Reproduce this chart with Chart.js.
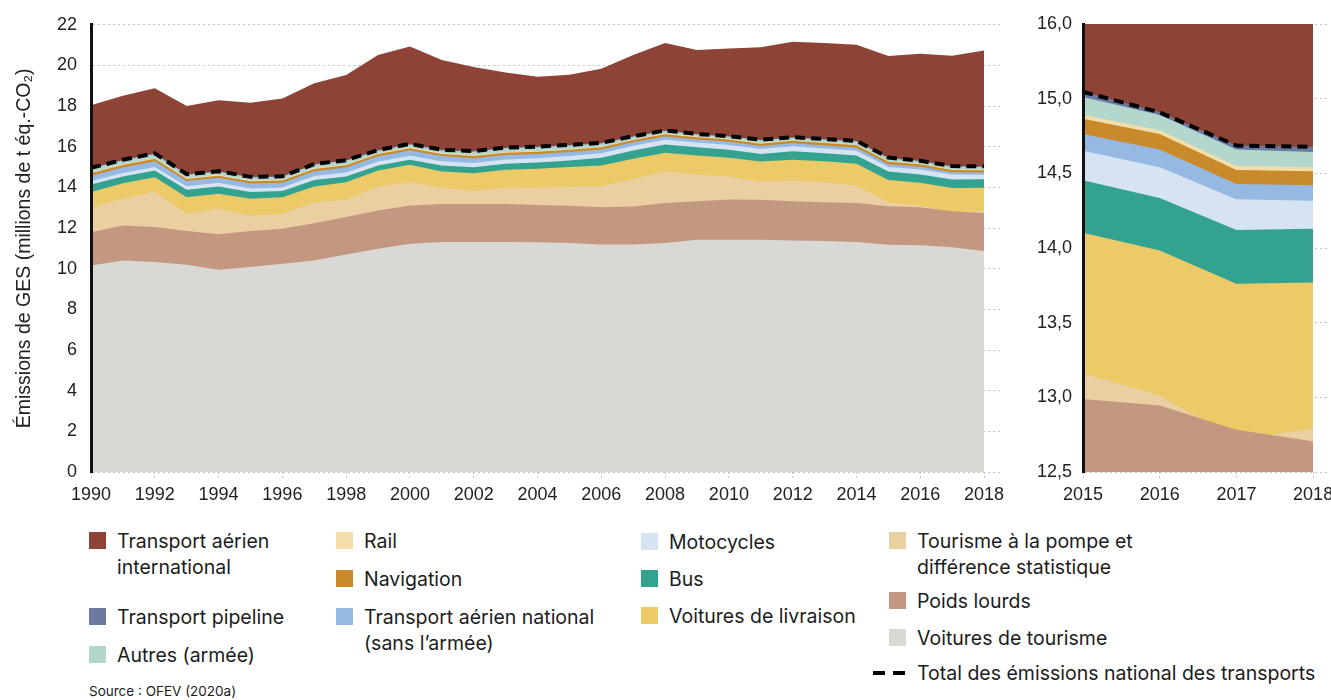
<!DOCTYPE html>
<html>
<head>
<meta charset="utf-8">
<script src="https://cdn.jsdelivr.net/npm/chart.js@4.4.1/dist/chart.umd.min.js"></script>
<style>
	body { margin: 0; background: #fff; width: 1331px; height: 700px; position: relative; overflow: hidden; font-family: Inter, "Noto Sans", sans-serif; color: #1c1c1c; }
	#mainChart { position: absolute; left: 0; top: 0; }
	#zoomChart { position: absolute; left: 1010px; top: 0; }
	.lg { position: absolute; font-size: 19.5px; line-height: 26px; white-space: nowrap; }
	.sw { position: absolute; width: 17px; height: 17px; }
	.dash { position: absolute; height: 4px; width: 12px; background: #000; }
	#source { position: absolute; left: 89px; top: 683px; font-size: 13.5px; }
</style>
</head>
<body>
<canvas id="mainChart" width="1010" height="505"></canvas>
<canvas id="zoomChart" width="321" height="505"></canvas>
<div id="legend"></div>
<div id="source">Source : OFEV (2020a)</div>
<script>
// Émissions de GES du transport, millions de t éq.-CO2
const years = [1990, 1991, 1992, 1993, 1994, 1995, 1996, 1997, 1998, 1999, 2000, 2001, 2002, 2003, 2004,
	2005, 2006, 2007, 2008, 2009, 2010, 2011, 2012, 2013, 2014, 2015, 2016, 2017, 2018];

const voituresTourisme = [10.16, 10.41, 10.33, 10.20, 9.95, 10.08, 10.25, 10.41, 10.70, 10.98, 11.23, 11.31, 11.31, 11.31, 11.30,
	11.26, 11.19, 11.19, 11.26, 11.43, 11.43, 11.43, 11.39, 11.36, 11.31, 11.18, 11.15, 11.06, 10.87];
const poidsLourds = [1.64, 1.72, 1.72, 1.65, 1.74, 1.77, 1.72, 1.83, 1.84, 1.89, 1.88, 1.88, 1.88, 1.88, 1.83,
	1.84, 1.84, 1.87, 1.97, 1.89, 1.98, 1.96, 1.93, 1.91, 1.92, 1.89, 1.87, 1.77, 1.87];
const tourismePompe = [1.23, 1.31, 1.75, 0.85, 1.26, 0.77, 0.73, 1.03, 0.85, 1.18, 1.15, 0.79, 0.63, 0.79, 0.87,
	0.95, 1.03, 1.36, 1.57, 1.32, 1.13, 0.90, 1.02, 0.99, 0.87, 0.20, 0.08, -0.08, 0.10];
const voituresLivraison = [0.74, 0.77, 0.70, 0.82, 0.74, 0.82, 0.82, 0.78, 0.87, 0.78, 0.85, 0.80, 0.88, 0.89, 0.92,
	0.95, 1.02, 0.99, 0.90, 0.93, 0.92, 0.99, 1.02, 1.03, 1.06, 1.10, 1.13, 1.22, 1.14];
const bus = [0.37, 0.33, 0.33, 0.36, 0.36, 0.33, 0.30, 0.32, 0.28, 0.25, 0.25, 0.30, 0.29, 0.29, 0.30,
	0.33, 0.38, 0.41, 0.41, 0.41, 0.39, 0.37, 0.42, 0.39, 0.41, 0.41, 0.41, 0.42, 0.42];
const motocycles = [0.17, 0.17, 0.18, 0.18, 0.18, 0.18, 0.18, 0.19, 0.19, 0.20, 0.20, 0.21, 0.21, 0.21, 0.22,
	0.22, 0.22, 0.23, 0.23, 0.23, 0.24, 0.24, 0.24, 0.24, 0.24, 0.23, 0.24, 0.24, 0.22];
const aerienNational = [0.27, 0.27, 0.28, 0.25, 0.24, 0.24, 0.23, 0.24, 0.25, 0.25, 0.26, 0.25, 0.23, 0.22, 0.20,
	0.19, 0.18, 0.17, 0.17, 0.15, 0.16, 0.15, 0.15, 0.14, 0.14, 0.13, 0.14, 0.12, 0.12];
const navigation = [0.12, 0.12, 0.12, 0.11, 0.11, 0.11, 0.11, 0.11, 0.11, 0.11, 0.11, 0.11, 0.11, 0.11, 0.11,
	0.11, 0.11, 0.11, 0.11, 0.11, 0.11, 0.11, 0.12, 0.12, 0.12, 0.12, 0.12, 0.11, 0.11];
const rail = [0.04, 0.04, 0.04, 0.04, 0.04, 0.04, 0.04, 0.04, 0.04, 0.04, 0.04, 0.04, 0.04, 0.04, 0.04,
	0.04, 0.03, 0.03, 0.03, 0.03, 0.03, 0.03, 0.03, 0.03, 0.03, 0.03, 0.03, 0.03, 0.03];
const autresArmee = [0.19, 0.19, 0.20, 0.16, 0.15, 0.15, 0.14, 0.17, 0.18, 0.13, 0.14, 0.13, 0.18, 0.19, 0.19,
	0.17, 0.16, 0.13, 0.12, 0.10, 0.10, 0.14, 0.12, 0.14, 0.16, 0.14, 0.12, 0.13, 0.12];
const pipeline = [0.03, 0.03, 0.03, 0.03, 0.03, 0.03, 0.03, 0.03, 0.03, 0.03, 0.03, 0.03, 0.03, 0.03, 0.03,
	0.03, 0.03, 0.03, 0.03, 0.03, 0.03, 0.03, 0.03, 0.03, 0.03, 0.04, 0.02, 0.03, 0.04];
const aerienInternational = [3.08, 3.15, 3.20, 3.36, 3.49, 3.65, 3.82, 3.97, 4.19, 4.67, 4.79, 4.42, 4.13, 3.69, 3.43,
	3.45, 3.65, 3.99, 4.31, 4.13, 4.32, 4.55, 4.69, 4.72, 4.73, 5.00, 5.27, 5.43, 5.69];

const mainXTicks = [1990, 1992, 1994, 1996, 1998, 2000, 2002, 2004, 2006, 2008, 2010, 2012, 2014, 2016, 2018];
const zoomXTicks = [2015, 2016, 2017, 2018];
const zoomYTickLabels = ['12,5', '13,0', '13,5', '14,0', '14,5', '15,0', '16,0'];

// stack order, bottom first
const series = [
	{ name: 'Voitures de tourisme', data: voituresTourisme, color: '#d9d8d4' },
	{ name: 'Poids lourds', data: poidsLourds, color: '#c49880' },
	{ name: 'Tourisme à la pompe et différence statistique', data: tourismePompe, color: '#eacfa0' },
	{ name: 'Voitures de livraison', data: voituresLivraison, color: '#ecca67' },
	{ name: 'Bus', data: bus, color: '#33a28f' },
	{ name: 'Motocycles', data: motocycles, color: '#d6e3f3' },
	{ name: 'Transport aérien national (sans l’armée)', data: aerienNational, color: '#95b9e3' },
	{ name: 'Navigation', data: navigation, color: '#c98a2c' },
	{ name: 'Rail', data: rail, color: '#f3dea9' },
	{ name: 'Autres (armée)', data: autresArmee, color: '#b3d7cd' },
	{ name: 'Transport pipeline', data: pipeline, color: '#6b7aa1' },
	{ name: 'Transport aérien international', data: aerienInternational, color: '#8e4337' }
];
const pipelineIndex = 10;

const tickFont = { family: '"Liberation Sans", Arial, sans-serif', size: 18 };
const gridGrey = '#c4c4c4';

function makeDatasets(from) {
	return series.map(s => ({
		label: s.name,
		data: years.slice(from).map((yr, i) => ({ x: yr, y: s.data[from + i] })),
		backgroundColor: s.color,
		borderColor: s.color,
		borderWidth: 0,
		pointRadius: 0,
		tension: 0,
		fill: 'origin'
	}));
}

// dashed total line = top of the national stack, drawn over the areas
const totalLine = {
	id: 'totalLine',
	afterDatasetsDraw(chart) {
		const meta = chart.getDatasetMeta(pipelineIndex);
		const a = chart.chartArea;
		const ctx = chart.ctx;
		ctx.save();
		ctx.beginPath();
		ctx.rect(a.left, a.top, a.right - a.left, a.bottom - a.top);
		ctx.clip();
		ctx.strokeStyle = '#000';
		ctx.lineWidth = 4;
		ctx.setLineDash([10, 6]);
		ctx.beginPath();
		meta.data.forEach((p, i) => i ? ctx.lineTo(p.x, p.y) : ctx.moveTo(p.x, p.y));
		ctx.stroke();
		ctx.restore();
	}
};

function xScale(min, max, ticks) {
	return {
		type: 'linear',
		min: min,
		max: max,
		afterBuildTicks: s => { s.ticks = ticks.map(v => ({ value: v })); },
		ticks: { font: tickFont, color: '#222', padding: 4, maxRotation: 0, autoSkip: false, callback: v => String(v) },
		grid: { drawOnChartArea: false, tickLength: 8, tickColor: gridGrey, tickBorderDash: [2, 2] },
		border: { display: false },
		afterFit: s => { s.height = 33; s.paddingLeft = 0; s.paddingRight = 0; }
	};
}

// Main chart 1990-2018
new Chart(document.getElementById('mainChart'), {
	type: 'line',
	data: { datasets: makeDatasets(0) },
	options: {
		responsive: false,
		animation: false,
		devicePixelRatio: 1,
		layout: { padding: { left: 0, right: 10, top: 24, bottom: 0 } },
		plugins: { legend: { display: false }, tooltip: { enabled: false } },
		scales: {
			x: xScale(1990, 2018.5, mainXTicks),
			y: {
				stacked: 'single',
				min: 0,
				max: 22,
				ticks: { stepSize: 2, font: tickFont, color: '#222', padding: 14 },
				grid: { color: gridGrey, drawTicks: false },
				border: { color: '#111', width: 3, dash: [2, 3], z: 1 },
				title: {
					display: true,
					text: 'Émissions de GES (millions de t éq.-CO₂)',
					font: { family: tickFont.family, size: 19.5 },
					color: '#222',
					padding: { top: 13, bottom: 0 }
				},
				afterFit: s => { s.width = 91; }
			}
		}
	},
	plugins: [totalLine]
});

// Zoom 2015-2018
new Chart(document.getElementById('zoomChart'), {
	type: 'line',
	data: { datasets: makeDatasets(25) },
	options: {
		responsive: false,
		animation: false,
		devicePixelRatio: 1,
		layout: { padding: { left: 0, right: 1, top: 24, bottom: 0 } },
		plugins: { legend: { display: false }, tooltip: { enabled: false } },
		scales: {
			x: xScale(2015, 2018.22, zoomXTicks),
			y: {
				stacked: 'single',
				min: 12.5,
				max: 16,
				afterBuildTicks: s => { s.ticks = zoomYTickLabels.map((l, i) => ({ value: 12.5 + i * 3.5 / 6 })); },
				ticks: { font: tickFont, color: '#222', padding: 11, callback: (v, i) => zoomYTickLabels[i] },
				grid: { color: gridGrey, drawTicks: false },
				border: { color: '#111', width: 3, dash: [2, 3], z: 1 },
				afterFit: s => { s.width = 73; }
			}
		}
	},
	plugins: [totalLine]
});

// legend
const legendItems = [
	{ i: 11, x: 89, y: 541, lines: ['Transport aérien', 'international'] },
	{ i: 10, x: 89, y: 617, lines: ['Transport pipeline'] },
	{ i: 9, x: 89, y: 655, lines: ['Autres (armée)'] },
	{ i: 8, x: 336, y: 541, lines: ['Rail'] },
	{ i: 7, x: 336, y: 579, lines: ['Navigation'] },
	{ i: 6, x: 336, y: 617, lines: ['Transport aérien national', '(sans l’armée)'] },
	{ i: 5, x: 641, y: 542, lines: ['Motocycles'] },
	{ i: 4, x: 641, y: 579, lines: ['Bus'] },
	{ i: 3, x: 641, y: 616, lines: ['Voitures de livraison'] },
	{ i: 2, x: 889, y: 541, lines: ['Tourisme à la pompe et', 'différence statistique'] },
	{ i: 1, x: 889, y: 601, lines: ['Poids lourds'] },
	{ i: 0, x: 889, y: 638, lines: ['Voitures de tourisme'] }
];
const legend = document.getElementById('legend');
legendItems.forEach(it => {
	const sw = document.createElement('div');
	sw.className = 'sw';
	sw.style.left = it.x + 'px';
	sw.style.top = (it.y - 9) + 'px';
	sw.style.background = series[it.i].color;
	legend.appendChild(sw);
	const t = document.createElement('div');
	t.className = 'lg';
	t.style.left = (it.x + 28) + 'px';
	t.style.top = (it.y - 13) + 'px';
	t.innerHTML = it.lines.join('<br>');
	legend.appendChild(t);
});
[873, 893].forEach(x => {
	const d = document.createElement('div');
	d.className = 'dash';
	d.style.left = x + 'px';
	d.style.top = '671px';
	legend.appendChild(d);
});
const tot = document.createElement('div');
tot.className = 'lg';
tot.style.left = '917px';
tot.style.top = '660px';
tot.textContent = 'Total des émissions national des transports';
legend.appendChild(tot);
</script>
</body>
</html>
